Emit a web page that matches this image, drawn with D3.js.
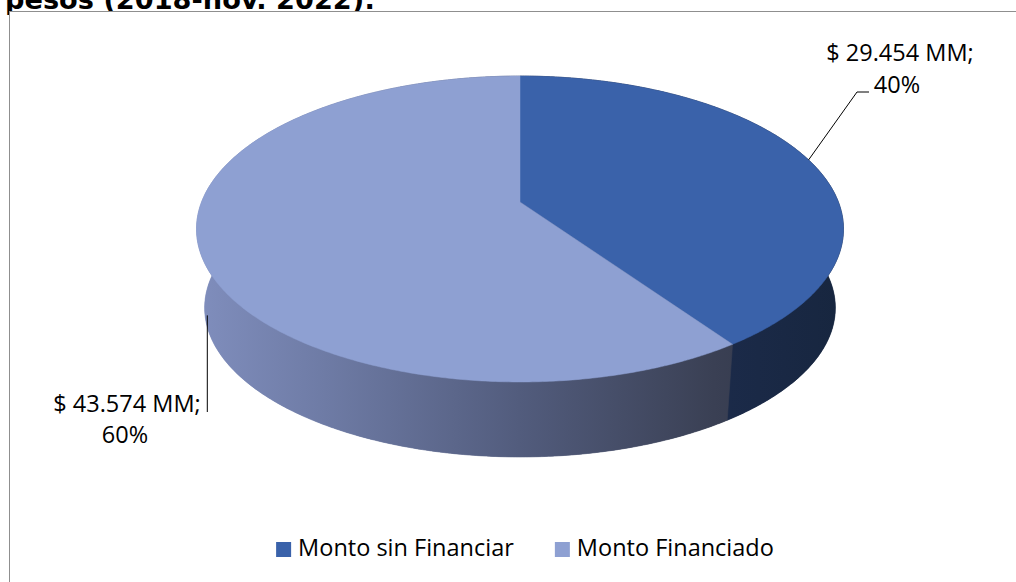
<!DOCTYPE html>
<html>
<head>
<meta charset="utf-8">
<script src="https://cdn.jsdelivr.net/npm/d3@7"></script>
<style>
  html, body { margin: 0; padding: 0; background: #fff; overflow: hidden; }
  svg { display: block; }
</style>
</head>
<body>
<svg id="chart" width="1016" height="582"></svg>
<script>
// ---- data ----
const titleText = "pesos (2018-nov. 2022):";
const categories = ["Monto sin Financiar", "Monto Financiado"];
const values = [29454, 43574]; // millones de pesos (MM)
const topColors = ["#3A62AA", "#8EA0D2"];

// ---- setup ----
const svg = d3.select("#chart");

const locale = d3.formatLocale({ decimal: ",", thousands: ".", grouping: [3], currency: ["$", ""] });
const fmtVal = v => "$ " + locale.format(",")(v) + " MM;";
const fmtPct = d3.format(".0%");

// title (partially clipped at top, covered by chart area below)
svg.append("text")
  .attr("x", 5).attr("y", 8.5)
  .attr("font-family", "DejaVu Sans")
  .attr("font-weight", "bold")
  .attr("font-size", 27.2)
  .attr("fill", "#000")
  .text(titleText);

// chart area
svg.append("rect")
  .attr("x", 9.5).attr("y", 11.5)
  .attr("width", 1200).attr("height", 800)
  .attr("fill", "#fff")
  .attr("stroke", "#8f8f8f").attr("stroke-width", 1);

// ---- perspective pie geometry ----
const cx = 520;
const k = 0.1765;
const topF = { a: 318.4, b: 148.2, cy: 202 };
const botF = { a: 310.4, b: 144.5, cy: 281.5 };
function proj(f, t) {
  const u = Math.sin(t), v = Math.cos(t), w = 1 + k * v;
  return [cx + f.a * u / w, f.cy - f.b * v / w];
}
function arcPts(f, t0, t1) {
  const n = Math.max(2, Math.ceil(Math.abs(t1 - t0) / (Math.PI / 360)));
  return d3.range(n + 1).map(i => proj(f, t0 + (t1 - t0) * i / n));
}

const pie = d3.pie().sort(null).startAngle(0).endAngle(2 * Math.PI);
const arcs = pie(values);
const total = d3.sum(values);

// gradients for side walls
const defs = svg.append("defs");
const g1 = defs.append("linearGradient").attr("id", "wall1")
  .attr("gradientUnits", "userSpaceOnUse").attr("x1", 196).attr("x2", 843).attr("y1", 0).attr("y2", 0);
[[0, "#808EBD"], [0.2, "#6E7BA5"], [0.5, "#525C7D"], [0.8, "#3A4054"], [1, "#2F3344"]]
  .forEach(s => g1.append("stop").attr("offset", s[0]).attr("stop-color", s[1]));
const g0 = defs.append("linearGradient").attr("id", "wall0")
  .attr("gradientUnits", "userSpaceOnUse").attr("x1", 700).attr("x2", 843).attr("y1", 0).attr("y2", 0);
[[0, "#1C2B4B"], [1, "#17263F"]]
  .forEach(s => g0.append("stop").attr("offset", s[0]).attr("stop-color", s[1]));
const wallFill = ["url(#wall0)", "url(#wall1)"];

const line = d3.line();
const gPie = svg.append("g");

// bottom faces + walls
arcs.forEach((d, i) => {
  const bot = arcPts(botF, d.startAngle, d.endAngle);
  gPie.append("path")
    .attr("d", line([[cx, botF.cy], ...bot]) + "Z")
    .attr("fill", wallFill[i]);
});
arcs.forEach((d, i) => {
  const top = arcPts(topF, d.startAngle, d.endAngle);
  const bot = arcPts(botF, d.startAngle, d.endAngle).reverse();
  gPie.append("path")
    .attr("d", line([...top, ...bot]) + "Z")
    .attr("fill", wallFill[i])
    .attr("stroke", wallFill[i]).attr("stroke-width", 0.6);
});
// top faces
arcs.forEach((d, i) => {
  const top = arcPts(topF, d.startAngle, d.endAngle);
  gPie.append("path")
    .attr("d", line([[cx, topF.cy], ...top]) + "Z")
    .attr("fill", topColors[i])
    .attr("stroke", topColors[i]).attr("stroke-width", 0.5);
});

// ---- data labels with leader lines ----
const labelFont = "Open Sans";
const labelSize = 23.5;
function mid(d) { return (d.startAngle + d.endAngle) / 2; }

// label 0 (top right)
{
  const d = arcs[0];
  const p = proj(topF, mid(d));
  gPie.append("path")
    .attr("d", line([p, [857, 92], [869, 92]]))
    .attr("fill", "none").attr("stroke", "#000").attr("stroke-width", 1);
  const t = svg.append("text")
    .attr("font-family", labelFont).attr("font-size", labelSize)
    .attr("text-anchor", "middle").attr("fill", "#000");
  t.append("tspan").attr("x", 900).attr("y", 61).text(fmtVal(values[0]));
  t.append("tspan").attr("x", 897).attr("y", 93).text(fmtPct(values[0] / total));
}
// label 1 (left)
{
  const d = arcs[1];
  const pt = proj(topF, mid(d)), pb = proj(botF, mid(d));
  const p = [pb[0], pt[1] + 0.85 * (pb[1] - pt[1])];
  gPie.append("path")
    .attr("d", line([p, [p[0], 412]]))
    .attr("fill", "none").attr("stroke", "#000").attr("stroke-width", 1);
  const t = svg.append("text")
    .attr("font-family", labelFont).attr("font-size", labelSize)
    .attr("text-anchor", "middle").attr("fill", "#000");
  t.append("tspan").attr("x", 127).attr("y", 412).text(fmtVal(values[1]));
  t.append("tspan").attr("x", 125).attr("y", 443).text(fmtPct(values[1] / total));
}

// ---- legend ----
const legend = svg.append("g");
const items = legend.selectAll("g").data(categories).join("g");
items.append("rect")
  .attr("width", 15).attr("height", 15)
  .attr("y", 542)
  .attr("fill", (d, i) => topColors[i]);
items.append("text")
  .attr("y", 556)
  .attr("font-family", labelFont).attr("font-size", labelSize)
  .attr("fill", "#000")
  .text(d => d);
const widths = [];
items.each(function () {
  widths.push(d3.select(this).select("text").node().getComputedTextLength());
});
const gap = 41, sw = 22;
const totalW = d3.sum(widths) + widths.length * sw + gap * (widths.length - 1);
let xCursor = 525 - totalW / 2;
items.each(function (d, i) {
  const g = d3.select(this);
  g.select("rect").attr("x", xCursor);
  g.select("text").attr("x", xCursor + sw);
  xCursor += sw + widths[i] + gap;
});
</script>
</body>
</html>
